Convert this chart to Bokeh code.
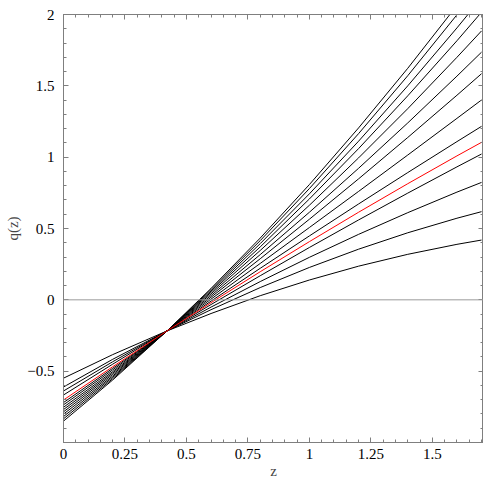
from bokeh.plotting import figure
from bokeh.models import LinearAxis, Range1d, Span, FixedTicker, CustomJSTickFormatter
from bokeh.embed import file_html
from bokeh.resources import INLINE

# sample points along z
z = [0.0, 0.2, 0.421, 0.6, 0.8, 1.0, 1.2, 1.4, 1.6, 1.7]

q_black_01 = [-0.549, -0.384, -0.218, -0.096, 0.029, 0.139, 0.236, 0.319, 0.389, 0.419]
q_black_02 = [-0.611, -0.417, -0.218, -0.069, 0.086, 0.227, 0.355, 0.470, 0.572, 0.618]
q_black_03 = [-0.639, -0.434, -0.218, -0.051, 0.128, 0.298, 0.459, 0.611, 0.755, 0.823]
q_black_04 = [-0.667, -0.451, -0.218, -0.033, 0.169, 0.367, 0.560, 0.748, 0.932, 1.022]
q_black_05 = [-0.720, -0.480, -0.218, -0.009, 0.221, 0.448, 0.672, 0.892, 1.109, 1.216]
q_black_06 = [-0.736, -0.491, -0.218, 0.005, 0.255, 0.507, 0.760, 1.015, 1.272, 1.401]
q_black_07 = [-0.753, -0.503, -0.218, 0.018, 0.288, 0.565, 0.848, 1.138, 1.434, 1.585]
q_black_08 = [-0.769, -0.513, -0.218, 0.030, 0.317, 0.614, 0.922, 1.240, 1.568, 1.736]
q_black_09 = [-0.785, -0.523, -0.218, 0.042, 0.346, 0.663, 0.995, 1.340, 1.700, 1.885]
q_black_10 = [-0.801, -0.534, -0.218, 0.053, 0.371, 0.707, 1.060, 1.430, 1.816, 2.016]
q_black_11 = [-0.818, -0.543, -0.218, 0.062, 0.394, 0.743, 1.112, 1.500, 1.906, 2.116]
q_black_12 = [-0.834, -0.553, -0.218, 0.072, 0.415, 0.780, 1.165, 1.571, 1.998, 2.219]
q_black_13 = [-0.850, -0.562, -0.218, 0.080, 0.433, 0.808, 1.205, 1.623, 2.063, 2.291]
q_red = [-0.702, -0.469, -0.218, -0.020, 0.197, 0.408, 0.614, 0.814, 1.009, 1.104]

black_series = [q_black_01, q_black_02, q_black_03, q_black_04, q_black_05,
                q_black_06, q_black_07, q_black_08, q_black_09, q_black_10,
                q_black_11, q_black_12, q_black_13]

x_ticks = [0, 0.25, 0.5, 0.75, 1.0, 1.25, 1.5]
y_ticks = [-0.5, 0, 0.5, 1.0, 1.5, 2.0]
x_minor = [round(i * 0.05, 2) for i in range(0, 35)]
y_minor = [round(-1.0 + i * 0.1, 2) for i in range(0, 31)]

FONT = "Liberation Serif"
FRAME = "#7f7f7f"

p = figure(width=483, height=483, output_backend="svg", toolbar_location=None,
           x_range=Range1d(0, 1.708), y_range=Range1d(-1.0, 2.0),
           min_border_left=63, min_border_right=0, min_border_top=14, min_border_bottom=41)
p.xgrid.visible = False
p.ygrid.visible = False
p.outline_line_color = FRAME
p.outline_line_width = 1
p.background_fill_color = "white"
p.border_fill_color = "white"

fmt = CustomJSTickFormatter(code="""
let s = (Math.round(tick*100)/100).toString();
return s.replace('-', '\\u2212');
""")
blank = CustomJSTickFormatter(code="return '';")

xt = FixedTicker(ticks=x_ticks, minor_ticks=x_minor)
yt = FixedTicker(ticks=y_ticks, minor_ticks=y_minor)

def style(ax):
    ax.axis_line_color = FRAME
    ax.major_tick_line_color = FRAME
    ax.minor_tick_line_color = FRAME
    ax.major_tick_in = 5
    ax.major_tick_out = 0
    ax.minor_tick_in = 3
    ax.minor_tick_out = 0
    ax.major_label_text_font = FONT
    ax.major_label_text_font_size = "15px"
    ax.major_label_text_color = "black"
    ax.axis_label_text_font = FONT
    ax.axis_label_text_font_style = "normal"
    ax.axis_label_text_font_size = "15px"

p.xaxis.ticker = xt
p.yaxis.ticker = yt
p.xaxis.formatter = fmt
p.yaxis.formatter = fmt
style(p.xaxis[0])
style(p.yaxis[0])
p.xaxis.axis_label = "z"
p.yaxis.axis_label = "q(z)"
p.xaxis.major_label_standoff = 6
p.yaxis.major_label_standoff = 9
p.xaxis.axis_label_standoff = 1
p.yaxis.axis_label_standoff = 3

top = LinearAxis(ticker=FixedTicker(ticks=x_ticks, minor_ticks=x_minor), formatter=blank)
style(top)
top.major_label_standoff = 0
right = LinearAxis(ticker=FixedTicker(ticks=y_ticks, minor_ticks=y_minor), formatter=blank)
style(right)
right.major_label_standoff = 0
p.add_layout(top, "above")
p.add_layout(right, "right")

p.add_layout(Span(location=0, dimension="width", line_color="#9a9a9a", line_width=1))

for q in black_series:
    p.line(z, q, line_color="black", line_width=1)
p.line(z, q_red, line_color="#ff0000", line_width=1)

open("out.html", "w").write(file_html(p, INLINE))
